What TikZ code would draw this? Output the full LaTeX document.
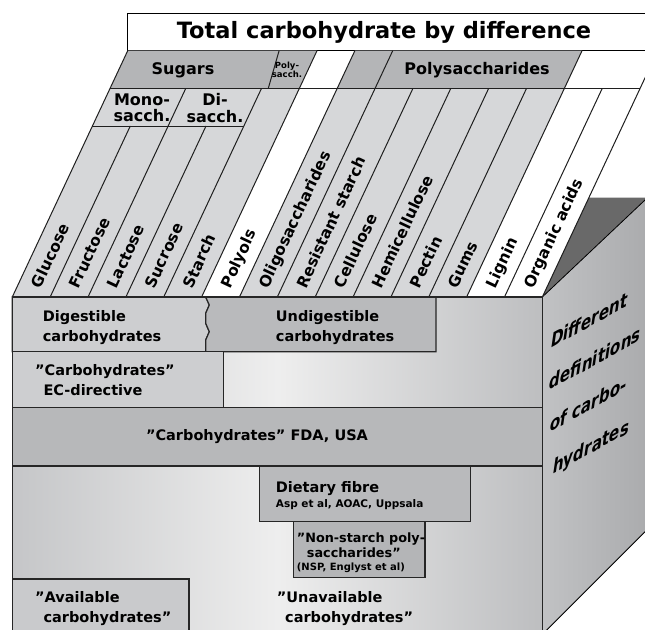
\documentclass[tikz,border=0pt]{standalone}
\usepackage{fontspec}
\setmainfont{DejaVu Sans}
\newfontfamily\sidefont{DejaVu Sans Bold}[FakeSlant=0.728]
\newcommand{\TP}[2]{({12.3+37.86*(#1)+0.4686*(297-(#2))},{#2})}
\definecolor{lightstrip}{HTML}{D6D7D9}
\definecolor{rowgray}{HTML}{B4B5B7}
\definecolor{digc}{HTML}{CDCED0}
\definecolor{undigc}{HTML}{B9BABC}
\definecolor{fdac}{HTML}{B7B8BA}
\definecolor{fibc}{HTML}{B9BABC}
\definecolor{nspc}{HTML}{B4B5B7}
\definecolor{availc}{HTML}{C9CACC}
\definecolor{bgL}{HTML}{C5C6C8}
\definecolor{bgM}{HTML}{EEEEEE}
\definecolor{bgR}{HTML}{BDBEC0}
\definecolor{sideL}{HTML}{C1C2C4}
\definecolor{sideR}{HTML}{ABACAE}
\definecolor{darktri}{HTML}{696969}
\begin{document}
\begin{tikzpicture}[x=1pt,y=-1pt,line join=miter,
  ln/.style={draw=black!88, line width=1pt},
  fl/.style={draw=black!85, line width=1.2pt},
  lab/.style={font=\fontsize{14.5}{19.5}\selectfont\bfseries, inner sep=0pt, align=left, anchor=north west},
  striplab/.style={font=\fontsize{15.5}{17}\selectfont\bfseries, inner sep=0pt, rotate=64.9, anchor=west, text height=11pt, text depth=0pt},
  hdr/.style={font=\fontsize{16}{16.5}\selectfont\bfseries, inner sep=0pt, align=center},
  sidetext/.style={font=\fontsize{19}{21}\sidefont, inner sep=0pt, anchor=base west, rotate=28.81, xscale=0.913, yscale=0.876}
]
\useasboundingbox (0,0) rectangle (645,629);
\clip (0,0) rectangle (645,629);

% ---------- header ----------
\draw[line width=1.3pt, fill=white] (127.7,13.3) -- (700,13.3) -- (700,50.7) -- (127.7,50.7) -- cycle;
\node[font=\fontsize{22.5}{24}\selectfont\bfseries, inner sep=0pt] (title) at (384,32) {Total carbohydrate by difference};

% ---------- top face ----------
\fill[lightstrip] \TP{0}{297} -- \TP{5}{297} -- \TP{5}{88.3} -- \TP{0}{88.3} -- cycle;
\fill[lightstrip] \TP{6}{297} -- \TP{12}{297} -- \TP{12}{88.3} -- \TP{6}{88.3} -- cycle;
\fill[rowgray] \TP{0}{88.3} -- \TP{5}{88.3} -- \TP{5}{50.7} -- \TP{0}{50.7} -- cycle;
\fill[rowgray] \TP{6}{88.3} -- \TP{12}{88.3} -- \TP{12}{50.7} -- \TP{6}{50.7} -- cycle;

% side face and dark top
\fill[left color=sideL, right color=sideR] (542.3,297) -- (645,200) -- (645,531.7) -- (542.3,634.4) -- cycle;
\fill[darktri] (542.3,297) -- \TP{14}{197.7} -- (645,197.7) -- (645,200) -- cycle;
\draw[line width=0.8pt] (542.3,297) -- (645,200);
\draw[line width=0.8pt] (542.3,634.4) -- (645,531.7);

\foreach \u in {0,5,6,7,12} \draw[ln] \TP{\u}{297} -- \TP{\u}{50.7};
\foreach \u in {2,4,8,9,10,11,13} \draw[ln] \TP{\u}{297} -- \TP{\u}{88.3};
\foreach \u in {1,3} \draw[ln] \TP{\u}{297} -- \TP{\u}{126};
\draw[ln] \TP{14}{297} -- \TP{14}{60};
\draw[ln] (279.1,50.7) -- (268.3,88.3);
\draw[ln] \TP{0}{126} -- \TP{4}{126};
\draw[ln] \TP{0}{88.3} -- \TP{14}{88.3};

\node[hdr] (sugars) at (183,70) {Sugars};
\node[hdr, font=\fontsize{8.5}{9.5}\selectfont\bfseries] (polys) at (287,70) {Poly-\\sacch.};
\node[hdr] (polysacc) at (477,70) {Polysaccharides};
\node[hdr] (mono) at (142,108) {Mono-\\sacch.};
\node[hdr] (di) at (215,108) {Di-\\sacch.};

\foreach \u/\t/\n in {0/Glucose/s0,1/Fructose/s1,2/Lactose/s2,3/Sucrose/s3,4/Starch/s4,5/Polyols/s5,6/Oligosaccharides/s6,7/Resistant starch/s7,8/Cellulose/s8,9/Hemicellulose/s9,10/Pectin/s10,11/Gums/s11,12/Lignin/s12,13/Organic acids/s13}
  \node[striplab] (\n) at \TP{\u+0.5}{287} {\t};

% ---------- front face ----------
\fill[left color=bgL, right color=bgR, middle color=bgM] (12.3,297) rectangle (542.3,640);

\draw[fl, fill=digc] (12.3,297) -- (205.7,297) -- (209.3,305) -- (205.7,313.3) -- (205.7,323.3) -- (209.3,331.7) -- (205.7,340) -- (205.7,351.7) -- (12.3,351.7) -- cycle;
\draw[fl, fill=undigc] (205.7,297) -- (209.3,305) -- (205.7,313.3) -- (205.7,323.3) -- (209.3,331.7) -- (205.7,340) -- (205.7,351.7) -- (436,351.7) -- (436,297) -- cycle;
\draw[fl, fill=digc] (12.3,351.7) rectangle (223.7,407.3);
\draw[fl, fill=fdac] (12.3,407.3) rectangle (542.3,466);
\draw[fl, fill=fibc] (259.3,466) rectangle (470.7,521.7);
\draw[fl, fill=nspc] (293.3,521.7) rectangle (425,577.7);
\draw[fl, fill=availc] (12.3,579) rectangle (189,640);
\draw[fl] (12.3,640) -- (12.3,297) -- (542.3,297) -- (542.3,640);

\node[lab] (dig) at (42.7,310.3) {Digestible\\carbohydrates};
\node[lab] (undig) at (275.7,310.3) {Undigestible\\carbohydrates};
\node[lab, font=\fontsize{14.5}{20}\selectfont\bfseries] (ec) at (35,364.3) {”Carbohydrates”\\\hspace*{8.3pt}EC-directive};
\node[font=\fontsize{14.5}{16}\selectfont\bfseries, inner sep=0pt] (fda) at (257,436.7) {”Carbohydrates” FDA, USA};
\node[lab, font=\fontsize{14.5}{15.5}\selectfont\bfseries] (fib) at (275.7,481) {Dietary fibre\\{\fontsize{10.5}{12}\selectfont Asp et al, AOAC, Uppsala}};
\node[lab, font=\fontsize{12.8}{15}\selectfont\bfseries] (nsp) at (296.7,532.8) {”Non-starch poly-\\\hspace*{10pt}saccharides”\\[-2pt]{\fontsize{10}{12}\selectfont (NSP, Englyst et al)}};
\node[lab, font=\fontsize{14.5}{20}\selectfont\bfseries] (avail) at (35,591) {”Available\\\hspace*{8.3pt}carbohydrates”};
\node[lab, font=\fontsize{14.5}{20}\selectfont\bfseries] (unavail) at (276.7,591) {”Unavailable\\\hspace*{8.3pt}carbohydrates”};

% side face text (sheared look)
\node[sidetext] (side1) at (550,349) {Different};
\node[sidetext] (side2) at (548.5,391) {definitions};
\node[sidetext] (side3) at (549,433) {of carbo-};
\node[sidetext] (side4) at (552,475) {hydrates};
\end{tikzpicture}
\end{document}
